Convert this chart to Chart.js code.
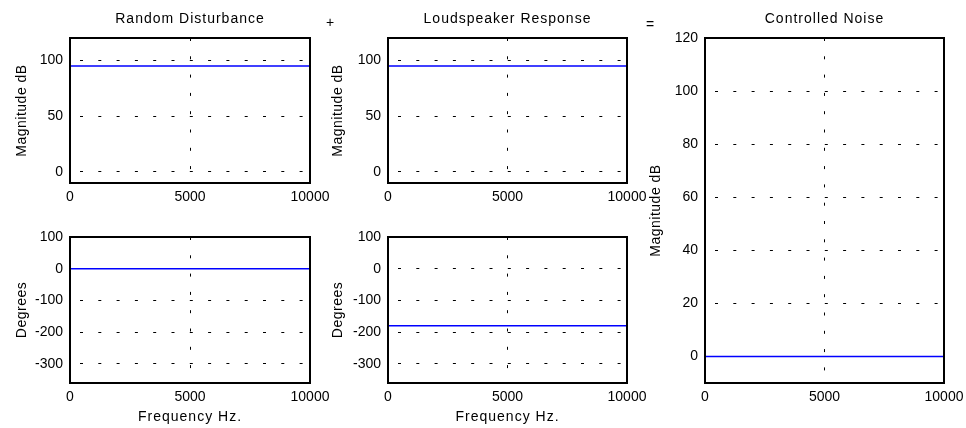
<!DOCTYPE html>
<html><head><meta charset="utf-8">
<script src="https://cdn.jsdelivr.net/npm/chart.js@4/dist/chart.umd.min.js"></script>
<style>
html,body{margin:0;padding:0;background:#fff;}
#wrap{position:relative;width:966px;height:428px;overflow:hidden;background:#fff;}
#wrap canvas{position:absolute;left:0;top:0;}
.op{position:absolute;width:12px;height:16px;line-height:16px;text-align:center;font:14px "Liberation Sans",Arial,sans-serif;color:#000;}
</style></head><body>
<div id="wrap">
<canvas id="c1" width="966" height="428"></canvas>
<canvas id="c2" width="966" height="428"></canvas>
<canvas id="c3" width="966" height="428"></canvas>
<canvas id="c4" width="966" height="428"></canvas>
<canvas id="c5" width="966" height="428"></canvas>
<div class="op" style="left:324px;top:14px">+</div>
<div class="op" style="left:644px;top:16px">=</div>
</div>
<script>
// ---- data ----
const freqHz = [0, 1000, 2000, 3000, 4000, 5000, 6000, 7000, 8000, 9000, 10000];
const disturbanceMagDb   = [95, 95, 95, 95, 95, 95, 95, 95, 95, 95, 95];
const disturbancePhaseDeg = [0, 0, 0, 0, 0, 0, 0, 0, 0, 0, 0];
const speakerMagDb       = [95, 95, 95, 95, 95, 95, 95, 95, 95, 95, 95];
const speakerPhaseDeg    = [-180, -180, -180, -180, -180, -180, -180, -180, -180, -180, -180];
const controlledMagDb    = [0, 0, 0, 0, 0, 0, 0, 0, 0, 0, 0];
const freqTicks  = [0, 5000, 10000];
const magTicks   = [0, 50, 100];
const phaseTicks = [-300, -200, -100, 0, 100];
const noiseTicks = [0, 20, 40, 60, 80, 100, 120];
const titles = ['Random Disturbance', 'Loudspeaker Response', 'Controlled Noise'];
const magLabel = 'Magnitude dB', phaseLabel = 'Degrees', freqLabel = 'Frequency Hz.';

const FONT = '"Liberation Sans", Arial, Helvetica, sans-serif';
const W = 966, H = 428;

const textPlugin = {
  id: 'mtext',
  afterDraw(chart, args, o) {
    const ctx = chart.ctx, a = chart.chartArea;
    ctx.save();
    // frame
    ctx.strokeStyle = '#000';
    ctx.lineWidth = 2;
    ctx.strokeRect(a.left, a.top, a.right - a.left, a.bottom - a.top);
    ctx.fillStyle = '#000';
    ctx.font = '14px ' + FONT;
    ctx.textBaseline = 'middle';
    ctx.textAlign = 'center';
    if (o.title) {
      ctx.letterSpacing = '1px';
      ctx.fillText(o.title, (a.left + a.right) / 2, a.top - 19);
    }
    if (o.xTitle) {
      ctx.letterSpacing = '1px';
      ctx.fillText(o.xTitle, (a.left + a.right) / 2, a.bottom + 34);
    }
    if (o.yTitle) {
      ctx.letterSpacing = '0.5px';
      ctx.translate(a.left - o.yOff, (a.top + a.bottom) / 2);
      ctx.rotate(-Math.PI / 2);
      ctx.fillText(o.yTitle, 0, 0);
    }
    ctx.restore();
  }
};

function makeChart(id, rect, yVals, yMin, yMax, yTicks, title, yTitle, xTitle, yOff) {
  const YW = 40, XH = 30;
  return new Chart(document.getElementById(id), {
    type: 'line',
    data: {
      datasets: [{
        data: freqHz.map((f, i) => ({ x: f, y: yVals[i] })),
        borderColor: '#0000ff',
        borderWidth: 1.5,
        pointRadius: 0,
        tension: 0,
        fill: false
      }]
    },
    plugins: [textPlugin],
    options: {
      responsive: false,
      animation: false,
      devicePixelRatio: 1,
      layout: { padding: { left: rect.l - YW, right: W - rect.r, top: rect.t, bottom: H - rect.b - XH } },
      plugins: {
        legend: { display: false },
        tooltip: { enabled: false },
        title: { display: false },
        mtext: { title: title, yTitle: yTitle, xTitle: xTitle, yOff: yOff }
      },
      scales: {
        x: {
          type: 'linear', min: 0, max: 10000,
          afterBuildTicks: s => { s.ticks = freqTicks.map(v => ({ value: v })); },
          afterFit: s => { s.height = XH; s.paddingLeft = 0; s.paddingRight = 0; },
          grid: { color: '#000', lineWidth: 1, drawTicks: false },
          border: { display: false, dash: [3, 15.3], dashOffset: 0 },
          ticks: { color: '#000', padding: 6, maxRotation: 0, autoSkip: false, callback: v => String(v), font: { size: 14, family: FONT } }
        },
        y: {
          type: 'linear', min: yMin, max: yMax,
          afterBuildTicks: s => { s.ticks = yTicks.map(v => ({ value: v })); },
          afterFit: s => { s.width = YW; s.paddingTop = 0; s.paddingBottom = 0; },
          grid: { color: '#000', lineWidth: 1, drawTicks: false },
          border: { display: false, dash: [3, 15.3], dashOffset: 8.3 },
          ticks: { color: '#000', padding: 7, autoSkip: false, callback: v => String(v), font: { size: 14, family: FONT } }
        }
      }
    }
  });
}

makeChart('c1', { l: 70, r: 310, t: 38, b: 183 }, disturbanceMagDb, -10, 120, magTicks, titles[0], magLabel, null, 48);
makeChart('c2', { l: 388, r: 627, t: 38, b: 183 }, speakerMagDb, -10, 120, magTicks, titles[1], magLabel, null, 50);
makeChart('c3', { l: 70, r: 310, t: 237, b: 383 }, disturbancePhaseDeg, -360, 100, phaseTicks, null, phaseLabel, freqLabel, 48);
makeChart('c4', { l: 388, r: 627, t: 237, b: 383 }, speakerPhaseDeg, -360, 100, phaseTicks, null, phaseLabel, freqLabel, 50);
makeChart('c5', { l: 705, r: 944, t: 38, b: 383 }, controlledMagDb, -10, 120, noiseTicks, titles[2], magLabel, null, 49);
</script>
</body></html>
